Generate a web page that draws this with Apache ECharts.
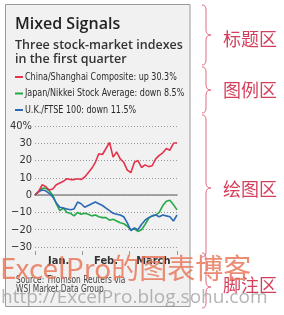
<!DOCTYPE html>
<html>
<head>
<meta charset="utf-8">
<title>Mixed Signals</title>
<script src="https://cdn.jsdelivr.net/npm/echarts@6/dist/echarts.min.js"></script>
<style>
  html, body { margin: 0; padding: 0; background: #fff; }
  #main { width: 284px; height: 315px; }
</style>
</head>
<body>
<div id="main"></div>
<script type="text/javascript">
// values, ~41 samples through Q1
var days = [];
for (var d = 0; d <= 40; d++) { days.push(String(d)); }
var months = ['Jan.', 'Feb.', 'March'];

var china = [0, 2, 6, 5, 3, 3.5, 6, 7, 8, 9.5, 9, 9, 9.5, 9, 10.5, 13, 15.5, 19, 24, 23.5,
  27, 30.5, 22, 25, 21, 19, 14.5, 13, 19, 20, 16, 17.5, 16.5, 17, 21, 23, 24.5, 27, 26, 30, 30.3];
var japan = [0, 2, 4, 4, 2.5, 0, -5, -9, -7.5, -10, -10.5, -12, -10, -11, -10.5, -11, -12, -11.5, -12.5, -13,
  -13, -14.5, -14, -15, -16, -16.5, -18, -20, -19.5, -21, -20, -17, -13.5, -12, -11.5, -10, -6, -3.5, -3, -5.5, -8.5];
var uk = [0, 2, 3, 2.5, 1, -1, -4.5, -7, -7.5, -8, -8.5, -8, -4, -5, -7, -6, -5, -4, -5, -6,
  -7.5, -9, -10.5, -11, -11.5, -12.5, -16, -20.5, -19, -20, -17, -14.5, -13, -12, -11.5, -12.5, -11.5, -12, -12.5, -15, -11.5];

var names = ['China/Shanghai Composite: up 30.3%', 'Japan/Nikkei Stock Average: down 8.5%', 'U.K./FTSE 100: down 11.5%'];
var colors = ['#e2344c', '#25a849', '#2d69b5'];

var narrow = '"DejaVu Sans Condensed", "DejaVu Sans", sans-serif';
var sans = '"Open Sans", "Noto Sans", sans-serif';
var cjk = '"Noto Sans CJK SC", sans-serif';

// curly brace made of quadratic curves and straight lines
function brace(x, y1, y2, tip) {
  var m = x + 4, r = 5, t = x + 9;
  var st = { stroke: '#e06a80', lineWidth: 1, fill: null };
  return [
    { type: 'bezierCurve', z: 50, shape: { x1: x, y1: y1, cpx1: m, cpy1: y1, x2: m, y2: y1 + r }, style: st },
    { type: 'line', z: 50, shape: { x1: m, y1: y1 + r, x2: m, y2: tip - r }, style: st },
    { type: 'bezierCurve', z: 50, shape: { x1: m, y1: tip - r, cpx1: m, cpy1: tip, x2: t, y2: tip }, style: st },
    { type: 'bezierCurve', z: 50, shape: { x1: t, y1: tip, cpx1: m, cpy1: tip, x2: m, y2: tip + r }, style: st },
    { type: 'line', z: 50, shape: { x1: m, y1: tip + r, x2: m, y2: y2 - r }, style: st },
    { type: 'bezierCurve', z: 50, shape: { x1: m, y1: y2 - r, cpx1: m, cpy1: y2, x2: x, y2: y2 }, style: st }
  ];
}

// condensed text: squeeze horizontally like the WSJ narrow face
function narrowText(x, y, text, size, sx, color, weight) {
  return { type: 'text', x: x, y: y, scaleX: sx, originX: 0,
    style: { x: 0, y: 0, text: text, font: (weight || 'normal') + ' ' + size + 'px ' + narrow, fill: color, textVerticalAlign: 'middle' } };
}

var graphics = [
  { type: 'rect', z: -10, shape: { x: 5.5, y: 4.5, width: 184.5, height: 302 },
    style: { fill: '#f1f1f1', stroke: '#9a9a9a', lineWidth: 1 } },
  { type: 'text', style: { x: 15, y: 24, text: 'Mixed Signals', font: '600 16px ' + sans, fill: '#222', textVerticalAlign: 'middle' } },
  { type: 'text', style: { x: 15, y: 45, text: 'Three stock-market indexes', font: '600 12.5px ' + sans, fill: '#333', textVerticalAlign: 'middle' } },
  { type: 'text', style: { x: 15, y: 59, text: 'in the first quarter', font: '600 12.5px ' + sans, fill: '#333', textVerticalAlign: 'middle' } },
  narrowText(16, 280, 'Source: Thomson Reuters via', 10, 0.83, '#444'),
  narrowText(16, 289, 'WSJ Market Data Group', 10, 0.83, '#444'),
  // watermarks
  { type: 'text', z: 100, style: { x: 0, y: 268, text: 'ExcelPro的图表博客', font: '28px ' + cjk, fill: 'rgba(232,120,90,0.85)', textVerticalAlign: 'middle' } },
  { type: 'text', z: 100, style: { x: 1, y: 298, text: 'http://ExcelPro.blog.sohu.com', font: '19px ' + sans, fill: 'rgba(150,150,150,0.7)', textVerticalAlign: 'middle' } },
  // area notes on the right
  { type: 'text', z: 50, style: { x: 223, y: 39, text: '标题区', font: '18px ' + cjk, fill: '#d4405c', textVerticalAlign: 'middle' } },
  { type: 'text', z: 50, style: { x: 223, y: 90, text: '图例区', font: '18px ' + cjk, fill: '#d4405c', textVerticalAlign: 'middle' } },
  { type: 'text', z: 50, style: { x: 223, y: 189, text: '绘图区', font: '18px ' + cjk, fill: '#d4405c', textVerticalAlign: 'middle' } },
  { type: 'text', z: 50, style: { x: 223, y: 285, text: '脚注区', font: '18px ' + cjk, fill: '#d4405c', textVerticalAlign: 'middle' } }
];
// legend rows
var legendY = [77, 93.5, 110];
for (var k = 0; k < names.length; k++) {
  graphics.push({ type: 'rect', shape: { x: 15, y: legendY[k] - 1, width: 8, height: 2 }, style: { fill: colors[k] } });
  graphics.push(narrowText(25, legendY[k], names[k], 11, 0.81, '#2a2a2a'));
}
graphics = graphics.concat(brace(202, 5, 65, 35), brace(202, 67, 113, 90),
  brace(202, 115, 257, 188), brace(202, 253, 308, 287));

var myChart = echarts.init(document.getElementById('main'));
var option = {
  animation: false,
  color: colors,
  grid: { left: 35, right: 107, top: 126, bottom: 68, containLabel: false },
  xAxis: [{
    type: 'category',
    data: days,
    boundaryGap: false,
    axisLine: { onZero: true, lineStyle: { color: '#8a8a8a', width: 1.5 } },
    axisTick: { show: false },
    axisLabel: { show: false },
    splitLine: { show: false }
  }, {
    type: 'category',
    data: months,
    position: 'bottom',
    offset: 4,
    axisLine: { show: false, onZero: false },
    axisTick: { show: true, length: 4, lineStyle: { color: '#999' } },
    axisLabel: { margin: 5, fontFamily: narrow, fontSize: 11, fontWeight: 'bold', color: '#333' }
  }],
  yAxis: {
    type: 'value',
    min: -30,
    max: 40,
    interval: 10,
    axisLine: { show: false },
    axisTick: { show: false },
    axisLabel: {
      margin: 3,
      fontFamily: narrow,
      fontSize: 11,
      color: '#333',
      formatter: function (v) { return v === 40 ? '40%' : String(v).replace('-', '\u2212'); }
    },
    splitLine: { lineStyle: { color: '#999', type: [1, 2], width: 1 } }
  },
  series: [
    { name: names[0], type: 'line', data: china, symbol: 'none', lineStyle: { width: 1.6 }, z: 3 },
    { name: names[1], type: 'line', data: japan, symbol: 'none', lineStyle: { width: 1.6 }, z: 2 },
    { name: names[2], type: 'line', data: uk, symbol: 'none', lineStyle: { width: 1.6 }, z: 2 }
  ],
  graphic: graphics
};
myChart.setOption(option);
</script>
</body>
</html>
